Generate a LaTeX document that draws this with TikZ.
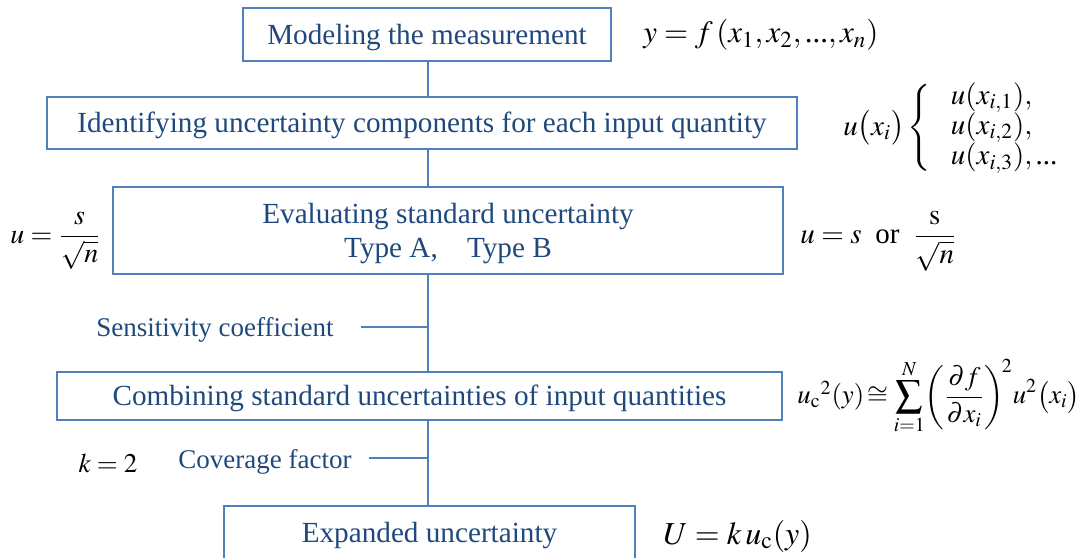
\documentclass[tikz,border=0pt]{standalone}
\usepackage{amsmath}
\usepackage{mathptmx}
\usepackage{fontspec}
\setmainfont{Liberation Serif}
\usetikzlibrary{arrows.meta,positioning}
\definecolor{boxblue}{RGB}{79,129,189}
\definecolor{txtblue}{RGB}{31,73,125}
\tikzset{
  stage/.style={draw=boxblue,line width=1pt,rectangle,inner sep=0pt,align=center,text=txtblue,text height=9.6pt,text depth=0pt,font=\fontsize{14.6}{17}\selectfont},
  note/.style={text=txtblue,inner sep=0pt,font=\fontsize{13.5}{16}\selectfont},
  formula/.style={inner sep=0pt,font=\fontsize{14.5}{17}\selectfont},
  link/.style={draw=boxblue,line width=1pt}
}

\begin{document}
\begin{tikzpicture}[x=0.5pt,y=-0.5pt,>=Stealth]
  \useasboundingbox (0,0) rectangle (1084,558);
  \clip (0,0) rectangle (1084,558);

  \node[stage,minimum width=184pt,minimum height=26.5pt] (model) at (427,34.5) {Modeling the measurement};
  \node[stage,minimum width=375pt,minimum height=26pt] (ident) at (422,123) {Identifying uncertainty components for each input quantity};
  \node[stage,minimum width=335pt,minimum height=43.5pt,text height=26.6pt] (eval) at (448,230.5) {Evaluating standard uncertainty\\Type A,\quad Type B};
  \node[stage,minimum width=362.5pt,minimum height=24pt] (comb) at (419.5,396) {Combining standard uncertainties of input quantities};
  \node[stage,minimum width=205.5pt,minimum height=27pt] (expd) at (429.5,533) {Expanded uncertainty};

  \node[formula,anchor=west,font=\fontsize{15.5}{18}\selectfont] (fmodel) at (643,35) {$y=f\,(x_1,x_2,\text{...},x_n)$};
  \node[formula,anchor=west] (fident) at (843,128) {$u\bigl(x_i\bigr)\left\{\hspace{10pt}\renewcommand{\arraystretch}{0.85}\begin{array}{@{}l@{}}u(x_{i,1}),\\ u(x_{i,2}),\\ u(x_{i,3}),\text{...}\end{array}\right.$};
  \node[formula,anchor=west,font=\fontsize{14}{17}\selectfont] (fevala) at (10,241) {$u=\dfrac{s}{\sqrt{n}}$};
  \node[formula,anchor=west] (fevalb) at (800,241) {$u=s\;\text{ or }\;\dfrac{\mathrm{s}}{\sqrt{n}}$};
  \node[formula,anchor=west,font=\fontsize{13.4}{16}\selectfont] (fcomb) at (797,397) {$u_{\mathrm{c}}{}^{2}(y)\mskip2mu{\cong}\mskip2mu\displaystyle\sum_{i=1}^{N}\!\left(\frac{\partial f}{\partial x_i}\right)^{\!2}\!u^{2}\bigl(x_i\bigr)$};
  \node[formula,anchor=west,font=\fontsize{16}{19}\selectfont] (fexpd) at (663,536) {$U=k\,u_{\mathrm{c}}(y)$};

  \node[note] (sens) at (215,330) {Sensitivity coefficient};
  \node[note] (cover) at (265,462) {Coverage factor};
  \node[formula,font=\fontsize{13.5}{16}\selectfont] (kval) at (108,463) {$k=2$};

  \coordinate (spine) at (428,0);
  \coordinate (senstick) at (361,327);
  \coordinate (covertick) at (369,458);

  \draw[link] (model.south -| spine) -- (ident.north -| spine);
  \draw[link] (ident.south -| spine) -- (eval.north -| spine);
  \draw[link] (eval.south -| spine) -- (comb.north -| spine);
  \draw[link] (comb.south -| spine) -- (expd.north -| spine);
  \draw[link] (senstick) -- (senstick -| spine);
  \draw[link] (covertick) -- (covertick -| spine);
\end{tikzpicture}
\end{document}
